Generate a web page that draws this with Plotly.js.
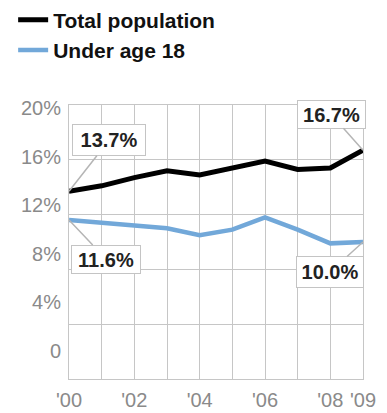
<!DOCTYPE html>
<html>
<head>
<meta charset="utf-8">
<script src="https://cdn.plot.ly/plotly-3.0.1.min.js"></script>
<style>html,body{margin:0;padding:0;background:#fff;}#chart{width:387px;height:413px;}</style>
</head>
<body>
<div id="chart"></div>
<script>
const years = [2000, 2001, 2002, 2003, 2004, 2005, 2006, 2007, 2008, 2009];
const totalPopulation = [13.7, 14.1, 14.7, 15.2, 14.9, 15.4, 15.9, 15.3, 15.4, 16.7];
const underAge18 = [11.6, 11.4, 11.2, 11.0, 10.5, 10.9, 11.8, 10.9, 9.9, 10.0];
const seriesNames = ['Total population', 'Under age 18'];
const xTickLabels = ["'00", "", "'02", "", "'04", "", "'06", "", "'08", "'09"];
const yTickVals = [0, 4, 8, 12, 16, 20];
const yTickLabels = ['0', '4%', '8%', '12%', '16%', '20%'];

const FONT = 'Liberation Sans, Arial, Helvetica, sans-serif';
const last = years.length - 1;
const fmt = v => v.toFixed(1) + '%';

const traces = [
  {x: years, y: totalPopulation, name: seriesNames[0], type: 'scatter', mode: 'lines',
   line: {color: '#000000', width: 5}, cliponaxis: false},
  {x: years, y: underAge18, name: seriesNames[1], type: 'scatter', mode: 'lines',
   line: {color: '#72a8d9', width: 4.5}, cliponaxis: false},
  {x: [years[0]], y: [0], yaxis: 'y2', type: 'scatter', mode: 'markers',
   marker: {opacity: 0}, showlegend: false, hoverinfo: 'skip'}
];

function callout(x, y, text, ax, ay, w, h) {
  return {x: x, y: y, xref: 'x', yref: 'y', text: '<b>' + text + '</b>',
    showarrow: true, arrowhead: 0, arrowwidth: 1.5, arrowcolor: '#b5b5b5',
    ax: ax, ay: ay, width: w, height: h, bgcolor: '#ffffff',
    bordercolor: '#c4c4c4', borderwidth: 1, borderpad: 0,
    font: {family: FONT, size: 20, color: '#222222'}};
}

const layout = {
  width: 387, height: 413,
  margin: {l: 69, r: 24, t: 105, b: 34, autoexpand: false},
  paper_bgcolor: '#ffffff', plot_bgcolor: '#ffffff',
  font: {family: FONT},
  showlegend: true,
  legend: {x: -0.19, y: 1.385, xanchor: 'left', yanchor: 'top',
    font: {family: FONT, size: 21, color: '#111111', weight: 'bold'},
    itemwidth: 30, tracegroupgap: 0, bgcolor: 'rgba(0,0,0,0)'},
  xaxis: {range: [2000, 2009], tickvals: years, ticktext: xTickLabels,
    showgrid: true, gridcolor: '#c6c6c6', gridwidth: 1,
    showline: true, linecolor: '#c6c6c6', linewidth: 1, mirror: true,
    zeroline: false, ticks: '', ticklabelstandoff: 3, automargin: false,
    tickfont: {family: FONT, size: 20, color: '#8a8a8a'}},
  yaxis: {range: [0, 20], tickvals: yTickVals, showticklabels: false,
    showgrid: true, gridcolor: '#c6c6c6', gridwidth: 1,
    showline: true, linecolor: '#c6c6c6', linewidth: 1, mirror: true,
    zeroline: false, ticks: '', automargin: false},
  yaxis2: {overlaying: 'y', side: 'left', range: [-2.3, 20.25],
    tickvals: yTickVals, ticktext: yTickLabels, showgrid: false,
    zeroline: false, showline: false, ticks: '', ticklabelstandoff: 7, automargin: false,
    tickfont: {family: FONT, size: 20, color: '#8a8a8a'}},
  annotations: [
    callout(years[0], totalPopulation[0], fmt(totalPopulation[0]), 40, -51, 72, 30),
    callout(years[0], underAge18[0], fmt(underAge18[0]), 37, 39, 68, 27),
    callout(years[last], totalPopulation[last], fmt(totalPopulation[last]), -32, -36, 67, 27),
    callout(years[last], underAge18[last], fmt(underAge18[last]), -33, 30, 66, 30)
  ]
};

Plotly.newPlot('chart', traces, layout, {displayModeBar: false, staticPlot: true});
</script>
</body>
</html>
